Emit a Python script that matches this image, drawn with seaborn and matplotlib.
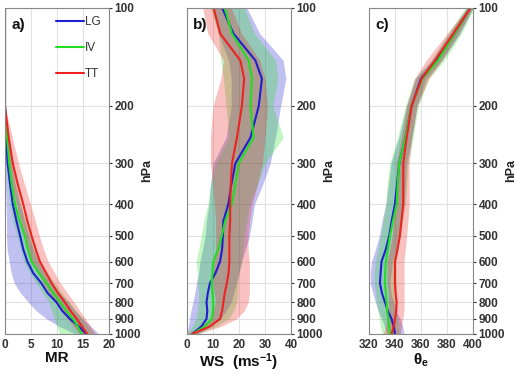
import numpy as np
import pandas as pd
import matplotlib
matplotlib.use('Agg')
import matplotlib.pyplot as plt
import seaborn as sns

sns.set_style('whitegrid', {'axes.edgecolor': '#888888', 'grid.color': '#e2e2e2'})
plt.rcParams['font.family'] = ['Liberation Sans', 'DejaVu Sans']
plt.rcParams['mathtext.fontset'] = 'custom'
plt.rcParams['mathtext.bf'] = 'Liberation Sans:bold'
plt.rcParams['mathtext.rm'] = 'Liberation Sans:bold'
plt.rcParams['mathtext.it'] = 'Liberation Sans:bold'

# pressure levels (hPa)
lev = [100, 120, 145, 165, 200, 250, 300, 350, 400, 450, 500, 550, 600, 650, 700, 750, 800, 850, 900, 950, 1000]
groups = ['LG', 'IV', 'TT']
colors = {'LG': '#1f1fd0', 'IV': '#22dd22', 'TT': '#ee2222'}

# a) mixing ratio
mr_mean = {
    'LG': [0, 0, 0, 0, 0, 0.2, 0.5, 1.0, 1.5, 2.2, 2.9, 3.5, 4.3, 5.4, 7.0, 8.2, 9.9, 11.0, 12.5, 14.2, 15.6],
    'IV': [0, 0, 0, 0, 0, 0.4, 0.8, 1.3, 1.9, 2.8, 3.8, 4.4, 5.1, 6.5, 8.0, 9.3, 10.6, 11.8, 13.1, 14.0, 14.7],
    'TT': [0, 0, 0, 0, 0, 0.7, 1.5, 2.5, 3.5, 4.3, 5.1, 5.9, 6.7, 7.9, 9.0, 10.2, 11.5, 12.6, 13.8, 14.8, 15.8],
}
mr_lo = {
    'LG': [0, 0, 0, 0, 0, 0, 0, 0.1, 0.2, 0.3, 0.3, 0.4, 0.8, 1.2, 1.8, 3.0, 4.5, 6.0, 8.0, 10.5, 13.5],
    'IV': [0, 0, 0, 0, 0, 0.1, 0.2, 0.5, 0.9, 1.5, 2.3, 3.0, 3.6, 4.8, 6.0, 7.3, 8.4, 9.0, 9.5, 10.0, 10.5],
    'TT': [0, 0, 0, 0, 0, 0.2, 0.5, 1.3, 2.2, 3.0, 3.7, 4.5, 5.2, 6.3, 7.4, 8.5, 9.8, 10.9, 12.0, 13.2, 14.2],
}
mr_hi = {
    'LG': [0, 0, 0, 0, 0, 0.5, 1.2, 2.0, 2.9, 3.8, 4.6, 5.4, 6.4, 7.6, 9.0, 10.5, 12.2, 13.5, 15.0, 16.5, 18.0],
    'IV': [0, 0, 0, 0, 0, 0.9, 1.5, 2.2, 3.0, 4.0, 5.2, 5.9, 6.7, 8.1, 9.6, 11.0, 12.4, 13.7, 15.0, 16.0, 17.0],
    'TT': [0, 0, 0, 0, 0, 1.4, 2.6, 3.8, 4.9, 5.8, 6.6, 7.4, 8.3, 9.5, 10.7, 12.0, 13.3, 14.4, 15.5, 16.5, 17.4],
}

# b) wind speed
ws_mean = {
    'LG': [13.5, 17.9, 26.3, 28.8, 27.6, 24.4, 18.6, 17.0, 15.9, 14.0, 13.8, 13.5, 12.7, 11.0, 8.8, 8.0, 7.5, 7.8, 7.5, 5.5, 2.0],
    'IV': [14.5, 17.3, 23.7, 25.0, 24.4, 25.6, 19.9, 18.5, 17.2, 14.7, 13.4, 12.0, 10.1, 9.8, 9.5, 9.8, 10.1, 10.0, 9.5, 6.8, 2.0],
    'TT': [10.2, 12.8, 20.5, 22.0, 21.1, 19.2, 17.3, 16.8, 16.6, 16.6, 16.3, 16.3, 16.3, 16.0, 15.3, 14.5, 14.0, 13.5, 12.7, 8.7, 2.0],
}
ws_lo = {
    'LG': [10, 12, 16, 17, 17, 15, 10, 9, 8.5, 7.5, 7, 6, 5, 4.5, 3.6, 3, 2.3, 1.5, 1, 0.5, 0],
    'IV': [9, 12, 13, 14, 15, 16, 11, 9, 8, 6.5, 5.5, 4.5, 3.5, 4, 4, 4.5, 4.5, 4, 3.5, 2, 0],
    'TT': [6, 8, 14, 13, 10, 9, 9, 10, 10.5, 11, 11, 11, 10.5, 10, 10, 10.5, 11, 10, 9, 5, 0],
}
ws_hi = {
    'LG': [23, 28, 37, 38, 36, 34, 32, 29, 26, 25, 24, 22.5, 21, 20, 19, 18, 17, 15, 13, 9, 4],
    'IV': [22, 26, 34, 35, 33, 37, 30, 27, 24, 23, 22, 21.5, 21, 20, 19.5, 19.5, 19, 18, 16, 11, 4],
    'TT': [17, 21, 28, 30, 31, 30, 29, 27, 25, 24, 23.5, 23.5, 24, 24, 24, 24, 23.5, 22, 19, 13, 4],
}

# c) equivalent potential temperature
te_mean = {
    'LG': [398, 386, 372, 360, 352.8, 348, 343.3, 341.5, 340, 337.5, 335.6, 333, 329.7, 329, 328.5, 330, 332.3, 334.5, 337.4, 339, 340],
    'IV': [398, 386, 373, 361, 352.8, 348, 343.3, 342, 341.3, 338.5, 336.2, 334.5, 333, 332.5, 332.3, 333, 333.6, 334, 334.9, 335.5, 336.2],
    'TT': [398, 384.9, 370.8, 360.5, 352.8, 349, 346.4, 346.4, 346.4, 345, 343.8, 342, 340, 340, 340, 340.5, 341.3, 341, 340, 339, 337.4],
}
te_lo = {
    'LG': [395, 382, 368, 356, 349, 343, 337, 335, 333, 330, 328, 325, 322, 321, 321, 323, 325, 327, 330, 332, 334],
    'IV': [394, 381, 368, 355, 348, 342, 336, 334, 333, 331, 329, 327, 325, 324, 324, 325, 326, 327, 328, 329, 330],
    'TT': [396, 380, 364, 355, 349, 345, 341, 341, 341, 339, 338, 336, 334, 334, 334, 335, 335, 335, 334, 333, 331],
}
te_hi = {
    'LG': [400, 390, 376, 364, 357, 353, 349, 348, 347, 345, 343, 341, 338, 337, 336, 337, 339, 341, 344, 346, 347],
    'IV': [401, 391, 378, 366, 358, 354, 350, 349, 348, 346, 344, 342, 341, 341, 341, 341, 341, 341, 342, 343, 343],
    'TT': [400, 389, 376, 366, 357, 353, 351, 351, 351, 350, 349, 348, 347, 347, 347, 347, 347, 347, 346, 345, 344],
}


def long_table(mean, lo, hi):
    rows = []
    for g in groups:
        for arr in (lo[g], mean[g], hi[g]):
            for p, v in zip(lev, arr):
                rows.append({'group': g, 'p': p, 'val': v})
    return pd.DataFrame(rows)


panels = [
    ('a)', long_table(mr_mean, mr_lo, mr_hi), (0, 20), [0, 5, 10, 15, 20], 'MR'),
    ('b)', long_table(ws_mean, ws_lo, ws_hi), (0, 40), [0, 10, 20, 30, 40], 'WS  (ms$^{-1}$)'),
    ('c)', long_table(te_mean, te_lo, te_hi), (320, 400), [320, 340, 360, 380, 400], 'θ$_\\mathbf{e}$'),
]

fig = plt.figure(figsize=(5.16, 3.73), dpi=100)
lefts = [0.0097, 0.3624, 0.715]
ptick = [100, 200, 300, 400, 500, 600, 700, 800, 900, 1000]

for i, (tag, df, xl, xt, xlab) in enumerate(panels):
    ax = fig.add_axes([lefts[i], 0.105, 0.2016, 0.874])
    sns.lineplot(data=df, x='val', y='p', hue='group', hue_order=groups, palette=colors,
                 estimator='median', errorbar=lambda v: (v.min(), v.max()),
                 orient='y', lw=1.5, err_kws={'alpha': 0.28, 'linewidth': 0}, ax=ax,
                 legend=(i == 0))
    ax.set_yscale('log')
    ax.set_ylim(1000, 100)
    ax.set_yticks(ptick)
    ax.set_yticklabels([str(p) for p in ptick])
    ax.yaxis.set_minor_locator(matplotlib.ticker.NullLocator())
    ax.yaxis.tick_right()
    ax.yaxis.set_label_position('right')
    ax.set_ylabel('hPa', fontsize=9, fontweight='bold', color='#222222', labelpad=0)
    ax.set_xlim(*xl)
    ax.set_xticks(xt)
    ax.set_xlabel(xlab, fontsize=11, fontweight='bold', color='#111111', labelpad=0)
    ax.tick_params(axis='both', labelsize=8.5, colors='#333333', length=2, pad=2)
    for lab in ax.get_xticklabels() + ax.get_yticklabels():
        lab.set_fontweight('bold')
    ax.text(0.06, 0.97, tag, transform=ax.transAxes, fontsize=11, fontweight='bold',
            va='top', ha='left', color='#111111')
    if i == 0:
        leg = ax.legend(frameon=False, loc='upper right', bbox_to_anchor=(1.0, 1.0),
                        labelspacing=1.2, handlelength=2.4, handletextpad=0.05,
                        fontsize=8.5, borderaxespad=0.3)
        for t in leg.get_texts():
            t.set_color('#333333')

fig.savefig('out.png', dpi=100)
